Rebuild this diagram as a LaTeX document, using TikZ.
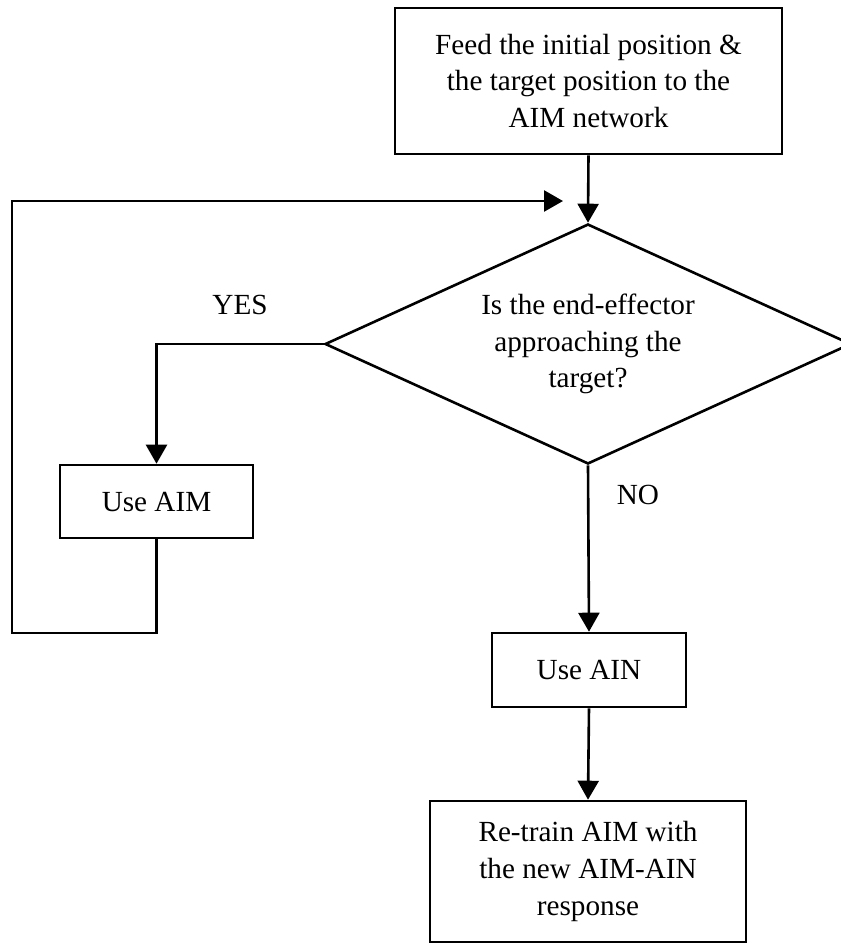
\documentclass[tikz,border=0pt]{standalone}
\usepackage{fontspec}
\setmainfont{Liberation Serif}
\usetikzlibrary{arrows.meta,shapes.geometric}
\begin{document}
\begin{tikzpicture}[x=0.5pt,y=-0.5pt,line width=1.3pt,
  every node/.style={font=\fontsize{14.6}{18.3}\selectfont},
  boxnode/.style={draw,rectangle,align=center,inner sep=0pt},
  decision/.style={draw,diamond,align=center,inner sep=0pt,shape aspect=2.19},
  flowarrow/.style={-{Triangle[length=9.5pt,width=10.5pt]}},
  lbl/.style={inner sep=0pt}]
\useasboundingbox (0,0) rectangle (841,944);
\node[boxnode,minimum width=193.5pt,minimum height=73pt] (feed) at (588.5,81)
  {Feed the initial position \&\\the target position to the\\AIM network};
\node[decision,minimum width=263pt,minimum height=120pt] (dec) at (588,344)
  {Is the end-effector\\approaching the\\target?};
\node[boxnode,minimum width=96.5pt,minimum height=36.5pt] (aim) at (156.5,501.5) {Use AIM};
\node[boxnode,minimum width=97pt,minimum height=37pt] (ain) at (589,670) {Use AIN};
\node[boxnode,minimum width=158pt,minimum height=70.5pt] (retrain) at (588,871.5)
  {Re-train AIM with\\the new AIM-AIN\\response};
\node[lbl] (yes) at (240,305) {YES};
\node[lbl] (no) at (638,495) {NO};
\coordinate (loopA) at (12,633);
\coordinate (loopB) at (12,201);
\coordinate (loopEnd) at (563,201);
\draw[flowarrow] (feed.south) -- (dec.north);
\draw[flowarrow] (dec.west) -| (aim.north);
\draw[flowarrow] (aim.south) |- (loopA) -- (loopB) -- (loopEnd);
\draw[flowarrow] (dec.south) -- (ain.north);
\draw[flowarrow] (ain.south) -- (retrain.north);
\end{tikzpicture}
\end{document}
